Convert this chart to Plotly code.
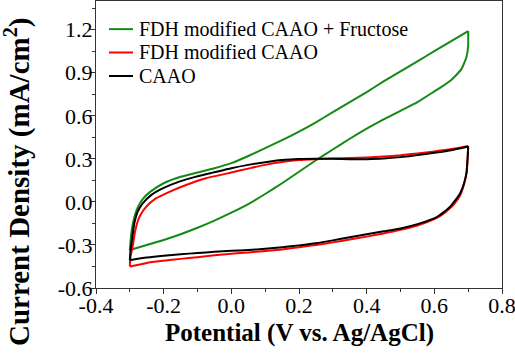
import plotly.graph_objects as go

# ---- data (potential V, current density mA/cm^2) ----
# forward scan (-0.3 -> 0.7) and reverse scan (0.7 -> -0.3) for each electrode
green_fwd_v = [-0.300, -0.297, -0.294, -0.287, -0.277, -0.262, -0.240, -0.200, -0.150, -0.100, -0.050,
               0.000, 0.050, 0.100, 0.150, 0.200, 0.250, 0.300, 0.350, 0.400, 0.450, 0.500, 0.550,
               0.600, 0.650, 0.700]
green_fwd_j = [-0.34, -0.25, -0.19, -0.11, -0.04, 0.02, 0.07, 0.13, 0.175, 0.205, 0.235,
               0.27, 0.32, 0.375, 0.43, 0.49, 0.555, 0.625, 0.695, 0.765, 0.84, 0.91, 0.98,
               1.05, 1.12, 1.19]
green_rev_v = [0.700, 0.700, 0.695, 0.680, 0.650, 0.620, 0.600, 0.550, 0.500, 0.450, 0.400, 0.350, 0.300,
               0.250, 0.200, 0.150, 0.100, 0.050, 0.000, -0.050, -0.100, -0.150, -0.200, -0.250, -0.300]
green_rev_j = [1.19, 1.09, 1.01, 0.925, 0.85, 0.80, 0.77, 0.695, 0.635, 0.575, 0.51, 0.44, 0.365,
               0.29, 0.21, 0.13, 0.055, -0.015, -0.075, -0.13, -0.18, -0.225, -0.265, -0.30, -0.335]

red_fwd_v = [-0.300, -0.298, -0.292, -0.284, -0.272, -0.252, -0.223, -0.183, -0.134, -0.075, 0.000,
             0.050, 0.100, 0.150, 0.200, 0.250, 0.300, 0.350, 0.400, 0.450, 0.500, 0.550, 0.600,
             0.650, 0.700]
red_fwd_j = [-0.45, -0.38, -0.317, -0.20, -0.106, -0.035, 0.024, 0.07, 0.118, 0.165, 0.205,
             0.232, 0.258, 0.278, 0.292, 0.298, 0.302, 0.306, 0.310, 0.316, 0.325, 0.338, 0.352,
             0.368, 0.390]
red_rev_v = [0.700, 0.699, 0.695, 0.686, 0.676, 0.660, 0.646, 0.620, 0.600, 0.550, 0.500, 0.450,
             0.400, 0.350, 0.300, 0.250, 0.200, 0.150, 0.100, 0.050, 0.000, -0.050, -0.100,
             -0.150, -0.200, -0.250, -0.300]
red_rev_j = [0.390, 0.330, 0.200, 0.110, 0.045, -0.010, -0.045, -0.095, -0.120, -0.165, -0.195, -0.220,
             -0.242, -0.262, -0.282, -0.300, -0.316, -0.331, -0.343, -0.352, -0.361, -0.372, -0.385,
             -0.397, -0.410, -0.425, -0.450]

black_fwd_v = [-0.300, -0.298, -0.294, -0.287, -0.277, -0.262, -0.237, -0.203, -0.154, -0.104, -0.055,
               0.000, 0.050, 0.100, 0.150, 0.200, 0.250, 0.300, 0.350, 0.400, 0.450, 0.500, 0.550,
               0.600, 0.650, 0.700]
black_fwd_j = [-0.406, -0.34, -0.27, -0.152, -0.07, -0.011, 0.047, 0.094, 0.141, 0.176, 0.204,
               0.235, 0.258, 0.277, 0.292, 0.299, 0.301, 0.300, 0.298, 0.298, 0.302, 0.312, 0.326,
               0.342, 0.360, 0.386]
black_rev_v = [0.700, 0.699, 0.695, 0.686, 0.676, 0.660, 0.646, 0.620, 0.607, 0.550, 0.500, 0.450,
               0.400, 0.350, 0.300, 0.250, 0.200, 0.150, 0.100, 0.050, 0.000, -0.050, -0.100,
               -0.150, -0.200, -0.250, -0.300]
black_rev_j = [0.386, 0.330, 0.200, 0.115, 0.059, 0.005, -0.035, -0.085, -0.106, -0.155, -0.185, -0.205,
               -0.225, -0.246, -0.268, -0.288, -0.303, -0.316, -0.327, -0.335, -0.341, -0.348, -0.356,
               -0.365, -0.375, -0.388, -0.406]

series_names = ["FDH modified CAAO + Fructose", "FDH modified CAAO", "CAAO"]
series_colors = ["#138a13", "#ff0000", "#000000"]

x_ticks = [-0.4, -0.2, 0.0, 0.2, 0.4, 0.6, 0.8]
x_tick_labels = ["-0.4", "-0.2", "0.0", "0.2", "0.4", "0.6", "0.8"]
y_ticks = [-0.6, -0.3, 0.0, 0.3, 0.6, 0.9, 1.2]
y_tick_labels = ["-0.6", "-0.3", "0.0", "0.3", "0.6", "0.9", "1.2"]

loops = [
    (green_fwd_v, green_fwd_j, green_rev_v, green_rev_j),
    (red_fwd_v, red_fwd_j, red_rev_v, red_rev_j),
    (black_fwd_v, black_fwd_j, black_rev_v, black_rev_j),
]

FONT = "Liberation Serif"
AX = "#333333"

fig = go.Figure()
for (fv, fj, rv, rj), name, col in zip(loops, series_names, series_colors):
    for xv, yv in ((fv, fj), (rv, rj)):
        fig.add_trace(go.Scatter(x=xv, y=yv, mode="lines", name=name, showlegend=False,
                                 line=dict(color=col, width=2, shape="spline", smoothing=0.5)))

axis_common = dict(
    showline=True, linecolor=AX, linewidth=1.2, mirror=True,
    ticks="outside", ticklen=5, tickwidth=1, tickcolor=AX,
    showgrid=False, zeroline=False, automargin=False, ticklabeloverflow="allow",
    tickfont=dict(family=FONT, size=22, color="black"),
    minor=dict(ticks="outside", ticklen=3, tickwidth=1, tickcolor=AX, showgrid=False),
)

fig.update_xaxes(range=[-0.4, 0.8], tickmode="array", tickvals=x_ticks, ticktext=x_tick_labels,
                 minor_dtick=0.1, ticklabelstandoff=-8, **axis_common)
fig.update_yaxes(range=[-0.6, 1.4], tickmode="array", tickvals=y_ticks, ticktext=y_tick_labels,
                 minor_dtick=0.15, minor_tick0=-0.6, ticklabelstandoff=-7, **axis_common)

# axis titles
fig.add_annotation(text="<b>Potential (V vs. Ag/AgCl)</b>", xref="paper", yref="paper",
                   x=0.5, y=-0.158, xanchor="center", yanchor="middle", showarrow=False,
                   font=dict(family=FONT, size=25, color="black"))
fig.add_annotation(text="<b>Current Density (mA/cm<sup>2</sup>)</b>", textangle=-90,
                   xref="paper", yref="paper", x=-0.195, y=0.372, xanchor="center", yanchor="middle",
                   showarrow=False, font=dict(family=FONT, size=29, color="black"))

# legend (drawn as line samples + labels in paper coordinates)
legend_rows_y = [0.902, 0.8206, 0.7387]
for name, col, ly in zip(series_names, series_colors, legend_rows_y):
    fig.add_shape(type="line", xref="paper", yref="paper", x0=0.032, x1=0.0911, y0=ly, y1=ly,
                  line=dict(color=col, width=2))
    fig.add_annotation(text=name, xref="paper", yref="paper", x=0.101, y=ly,
                       xanchor="left", yanchor="middle", showarrow=False,
                       font=dict(family=FONT, size=20, color="black"))

fig.update_layout(
    width=515, height=357,
    margin=dict(l=96, r=13, t=1, b=69),
    paper_bgcolor="white", plot_bgcolor="white",
    showlegend=False,
)

fig.write_html("out.html", config={"displayModeBar": False},
               post_script="document.body.style.margin='0';document.body.style.overflow='hidden';")
